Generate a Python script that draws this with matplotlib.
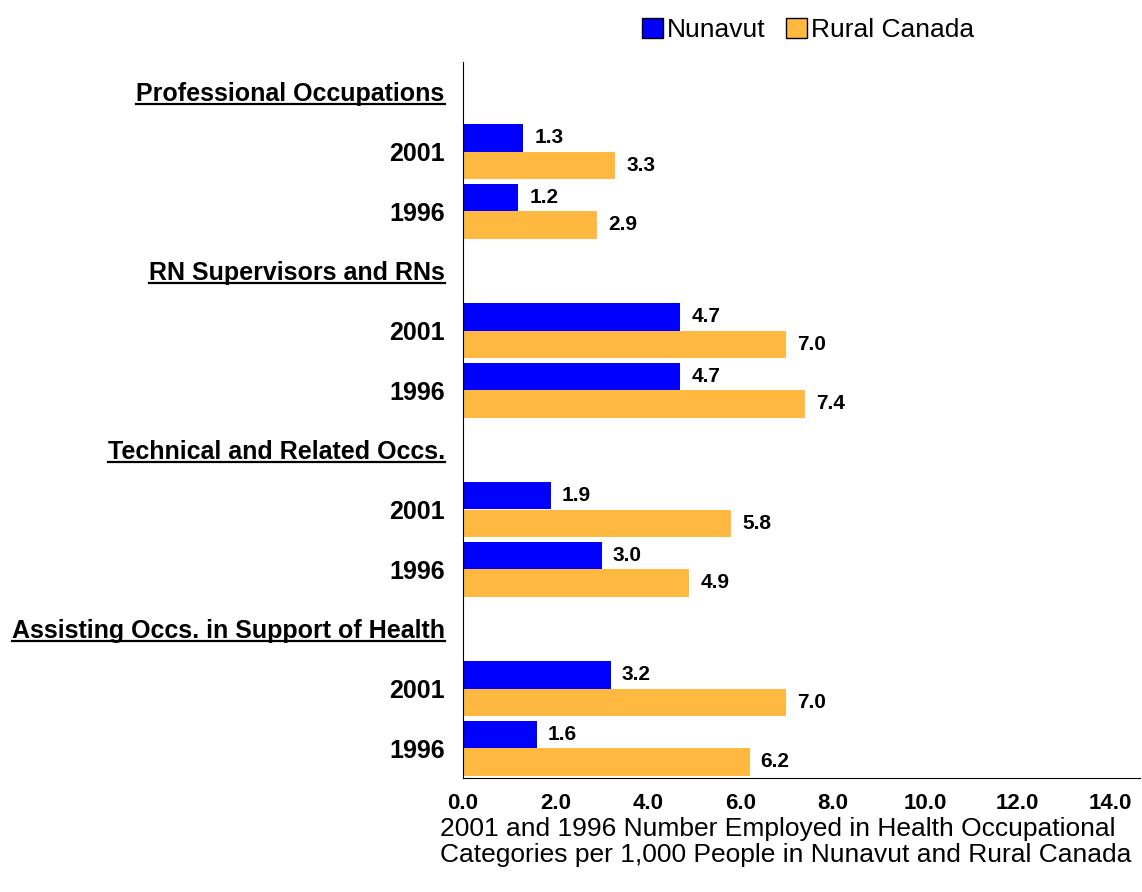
import matplotlib.pyplot as plt
from matplotlib.patches import Patch
from matplotlib.lines import Line2D

plt.rcParams['font.family'] = ['Liberation Sans', 'DejaVu Sans']

# data
groups = ['Professional Occupations', 'RN Supervisors and RNs',
          'Technical and Related Occs.', 'Assisting Occs. in Support of Health']
years = ['2001', '1996']
nunavut = [[1.3, 1.2], [4.7, 4.7], [1.9, 3.0], [3.2, 1.6]]
rural = [[3.3, 2.9], [7.0, 7.4], [5.8, 4.9], [7.0, 6.2]]
xticks = [0, 2, 4, 6, 8, 10, 12, 14]
blue = '#0000FF'
orange = '#FFB940'

fig = plt.figure(figsize=(11.42, 8.92), dpi=100)
ax = fig.add_axes([463 / 1142, 1 - 778 / 892, (1140 - 463) / 1142, (778 - 62) / 892])

h = 0.46
row_pos, row_lab, head_pos = [], [], []
for g in range(len(groups)):
    base = g * 3
    head_pos.append(base)
    for k in range(len(years)):
        y = base + 1 + k
        row_pos.append(y)
        row_lab.append(years[k])
        nv, rv = nunavut[g][k], rural[g][k]
        ax.barh(y - h / 2, nv, height=h, color=blue)
        ax.barh(y + h / 2, rv, height=h, color=orange)
        ax.annotate(f'{nv:.1f}', (nv, y - h / 2), xytext=(8, 0), textcoords='offset points',
                    va='center', ha='left', fontsize=15, fontweight='bold')
        ax.annotate(f'{rv:.1f}', (rv, y + h / 2), xytext=(8, 0), textcoords='offset points',
                    va='center', ha='left', fontsize=15, fontweight='bold')

ax.set_ylim(11.5, -0.5)
ax.set_xlim(0, 14.65)
ax.set_yticks(row_pos)
ax.set_yticklabels(row_lab, fontsize=18, fontweight='bold')
ax.set_xticks(xticks)
ax.set_xticklabels([f'{v:.1f}' for v in xticks], fontsize=16, fontweight='bold')
ax.tick_params(length=0)
ax.tick_params(axis='x', pad=11)
ax.tick_params(axis='y', pad=13)
for s in ['top', 'right']:
    ax.spines[s].set_visible(False)

# underlined group headers
heads = []
for g, y in zip(groups, head_pos):
    t = ax.text(-0.027, y + 0.03, g, transform=ax.get_yaxis_transform(), ha='right', va='center',
                fontsize=18, fontweight='bold')
    heads.append(t)
fig.canvas.draw()
r = fig.canvas.get_renderer()
inv = fig.transFigure.inverted()
for t in heads:
    bb = t.get_window_extent(r)
    (x0, y0), (x1, _) = inv.transform([(bb.x0, bb.y0), (bb.x1, bb.y1)])
    fig.add_artist(Line2D([x0, x1], [y0 + 0.002, y0 + 0.002], color='black', lw=1.6,
                          transform=fig.transFigure))

handles = [Patch(facecolor=blue, edgecolor='black', label='Nunavut'),
           Patch(facecolor=orange, edgecolor='black', label='Rural Canada')]
fig.legend(handles=handles, loc='center', bbox_to_anchor=(808 / 1142, 1 - 30 / 892), ncol=2,
           frameon=False, fontsize=19, handlelength=0.8, handleheight=0.8,
           handletextpad=0.15, columnspacing=0.8)

fig.text(440 / 1142, 1 - 842 / 892,
         '2001 and 1996 Number Employed in Health Occupational\n'
         'Categories per 1,000 People in Nunavut and Rural Canada',
         ha='left', va='center', fontsize=19, linespacing=1.15)

fig.savefig('out.png', dpi=100)
